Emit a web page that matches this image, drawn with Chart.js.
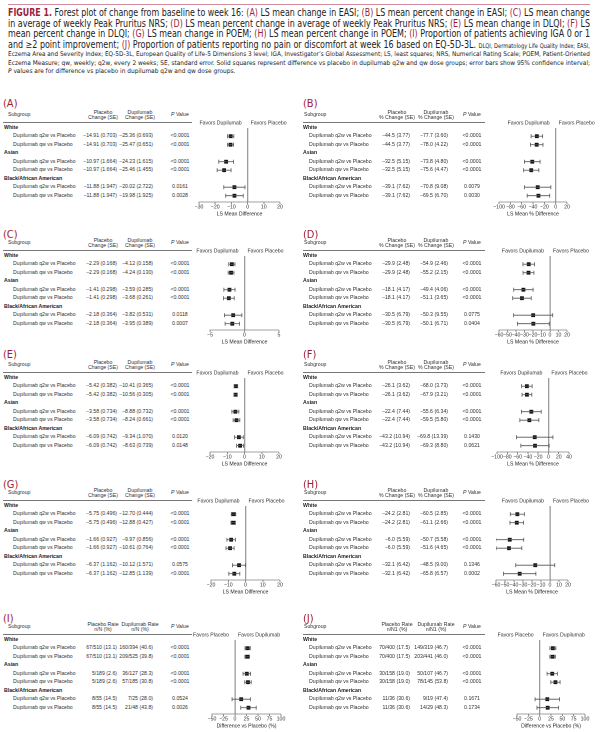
<!DOCTYPE html>
<html><head><meta charset="utf-8">
<script src="https://cdn.jsdelivr.net/npm/chart.js@4.4.1/dist/chart.umd.min.js"></script>
<style>
html,body{margin:0;padding:0;background:#fff;width:600px;height:732px;overflow:hidden;}
#page{position:absolute;left:0;top:0;width:600px;height:732px;overflow:hidden;}
.t{position:absolute;white-space:nowrap;font-family:"Liberation Sans",Arial,sans-serif;font-size:5.2px;color:#333;line-height:1;transform:translateY(-50%);}
.c{transform:translate(-50%,-50%);text-align:center;}
.r{transform:translate(-100%,-50%);}
.g{font-weight:bold;color:#222;}
.lab{position:absolute;font-family:"Liberation Sans Narrow","DejaVu Sans Condensed",sans-serif;font-size:11px;color:#a11d3a;line-height:1;transform:translateY(-50%);}
.rule{position:absolute;height:0;border-top:0.8px solid #777;}
.cap{position:absolute;left:8px;white-space:nowrap;font-family:"Liberation Sans Narrow","DejaVu Sans Condensed",sans-serif;color:#222;line-height:1;transform-origin:0 0;}
.big{font-size:10px;}
.sm{font-size:6.4px;}
.red{color:#a11d3a;}
canvas{position:absolute;}
</style></head><body><div id="page"></div>
<script>
// ---------------- DATA ----------------
const groups = ["White", "Asian", "Black/African American"];
const comparisons = ["Dupilumab q2w vs Placebo", "Dupilumab qw vs Placebo"];

const A_placebo = ["−14.91 (0.703)","−14.91 (0.703)","−10.97 (1.664)","−10.97 (1.664)","−11.88 (1.947)","−11.88 (1.947)"];
const A_dupilumab = ["−25.36 (0.693)","−25.47 (0.651)","−24.23 (1.615)","−25.46 (1.455)","−20.02 (2.722)","−19.98 (1.925)"];
const A_p = ["<0.0001","<0.0001","<0.0001","<0.0001","0.0161","0.0028"];
const A_diff = [-10.45,-10.56,-13.26,-14.49,-8.14,-8.10];
const A_lo = [-12.4,-12.4,-17.8,-18.8,-14.7,-13.5];
const A_hi = [-8.5,-8.7,-8.7,-10.2,-1.6,-2.7];
const A_ticks = [-30,-20,-10,0,10,20];

const B_placebo = ["−44.5 (3.77)","−44.5 (3.77)","−32.5 (5.15)","−32.5 (5.15)","−39.1 (7.62)","−39.1 (7.62)"];
const B_dupilumab = ["−77.7 (3.60)","−78.0 (4.22)","−73.8 (4.80)","−75.6 (4.47)","−70.8 (9.08)","−69.5 (6.70)"];
const B_p = ["<0.0001","<0.0001","<0.0001","<0.0001","0.0079","0.0030"];
const B_diff = [-33.2,-33.5,-41.3,-43.1,-31.7,-30.4];
const B_lo = [-43.4,-44.6,-55.1,-56.5,-54.9,-50.3];
const B_hi = [-23.0,-22.4,-27.5,-29.7,-8.5,-10.5];
const B_ticks = [-100,-80,-60,-40,-20,0,20];

const C_placebo = ["−2.29 (0.168)","−2.29 (0.168)","−1.41 (0.298)","−1.41 (0.298)","−2.18 (0.364)","−2.18 (0.364)"];
const C_dupilumab = ["−4.12 (0.158)","−4.24 (0.130)","−3.59 (0.285)","−3.68 (0.261)","−3.82 (0.531)","−3.95 (0.389)"];
const C_p = ["<0.0001","<0.0001","<0.0001","<0.0001","0.0118","0.0007"];
const C_diff = [-1.83,-1.95,-2.18,-2.27,-1.64,-1.77];
const C_lo = [-2.28,-2.37,-2.99,-3.05,-2.90,-2.81];
const C_hi = [-1.38,-1.53,-1.37,-1.49,-0.38,-0.73];
const C_ticks = [-5,0,5];

const D_placebo = ["−29.9 (2.48)","−29.9 (2.48)","−18.1 (4.17)","−18.1 (4.17)","−30.5 (6.79)","−30.5 (6.79)"];
const D_dupilumab = ["−54.9 (2.46)","−55.2 (2.15)","−49.4 (4.06)","−51.1 (3.65)","−50.3 (9.55)","−50.1 (6.71)"];
const D_p = ["<0.0001","<0.0001","<0.0001","<0.0001","0.0775","0.0404"];
const D_diff = [-25.0,-25.3,-31.3,-33.0,-19.8,-19.6];
const D_lo = [-31.8,-31.7,-42.7,-43.9,-42.8,-38.3];
const D_hi = [-18.2,-18.9,-19.9,-22.1,3.2,-0.9];
const D_ticks = [-60,-50,-40,-30,-20,-10,0,10,20];

const E_placebo = ["−5.42 (0.382)","−5.42 (0.382)","−3.58 (0.734)","−3.58 (0.734)","−6.09 (0.742)","−6.09 (0.742)"];
const E_dupilumab = ["−10.41 (0.365)","−10.56 (0.305)","−8.88 (0.732)","−8.24 (0.661)","−9.34 (1.070)","−8.63 (0.739)"];
const E_p = ["<0.0001","<0.0001","<0.0001","<0.0001","0.0120","0.0148"];
const E_diff = [-4.99,-5.14,-5.30,-4.66,-3.25,-2.54];
const E_lo = [-6.03,-6.10,-7.33,-6.60,-5.80,-4.59];
const E_hi = [-3.95,-4.18,-3.27,-2.72,-0.70,-0.49];
const E_ticks = [-20,-10,0,10,20];

const F_placebo = ["−26.1 (3.62)","−26.1 (3.62)","−22.4 (7.44)","−22.4 (7.44)","−43.2 (10.94)","−43.2 (10.94)"];
const F_dupilumab = ["−68.0 (3.73)","−67.9 (3.21)","−55.6 (6.34)","−59.5 (5.80)","−69.8 (13.39)","−69.3 (8.80)"];
const F_p = ["<0.0001","<0.0001","<0.0001","<0.0001","0.1430","0.0621"];
const F_diff = [-41.9,-41.8,-33.2,-37.1,-26.6,-26.1];
const F_lo = [-52.1,-51.3,-52.4,-55.6,-62.0,-53.6];
const F_hi = [-31.7,-32.3,-14.0,-18.6,8.8,1.4];
const F_ticks = [-100,-80,-60,-40,-20,0,20,40];

const G_placebo = ["−5.75 (0.496)","−5.75 (0.496)","−1.66 (0.927)","−1.66 (0.927)","−6.37 (1.162)","−6.37 (1.162)"];
const G_dupilumab = ["−12.70 (0.444)","−12.88 (0.427)","−9.97 (0.856)","−10.61 (0.764)","−10.12 (1.571)","−12.85 (1.139)"];
const G_p = ["<0.0001","<0.0001","<0.0001","<0.0001","0.0575","<0.0001"];
const G_diff = [-6.95,-7.13,-8.31,-8.95,-3.75,-6.48];
const G_lo = [-8.25,-8.41,-10.78,-11.30,-7.58,-9.67];
const G_hi = [-5.65,-5.85,-5.84,-6.60,0.08,-3.29];
const G_ticks = [-20,-10,0,10,20];

const H_placebo = ["−24.2 (2.81)","−24.2 (2.81)","−6.0 (5.59)","−6.0 (5.59)","−32.1 (6.42)","−32.1 (6.42)"];
const H_dupilumab = ["−60.5 (2.85)","−61.1 (2.66)","−50.7 (5.58)","−51.6 (4.65)","−48.5 (9.00)","−65.8 (6.57)"];
const H_p = ["<0.0001","<0.0001","<0.0001","<0.0001","0.1346","0.0002"];
const H_diff = [-36.3,-36.9,-44.7,-45.6,-16.4,-33.7];
const H_lo = [-44.1,-44.5,-60.2,-59.9,-38.1,-51.7];
const H_hi = [-28.5,-29.3,-29.2,-31.3,5.3,-15.7];
const H_ticks = [-60,-50,-40,-30,-20,-10,0,10,20];

const I_placebo = ["67/510 (13.1)","67/510 (13.1)","5/189 (2.6)","5/189 (2.6)","8/55 (14.5)","8/55 (14.5)"];
const I_dupilumab = ["160/394 (40.6)","209/525 (39.8)","36/127 (28.3)","57/185 (30.8)","7/25 (28.0)","21/48 (43.8)"];
const I_p = ["<0.0001","<0.0001","<0.0001","<0.0001","0.0524","0.0026"];
const I_diff = [27.5,26.7,25.7,28.2,13.5,29.3];
const I_lo = [21.8,21.6,17.5,21.2,-6.4,12.5];
const I_hi = [33.2,31.8,33.9,35.2,33.4,46.1];
const I_ticks = [-50,-25,0,25,50,75,100];

const J_placebo = ["70/400 (17.5)","70/400 (17.5)","30/158 (19.0)","30/158 (19.0)","11/36 (30.6)","11/36 (30.6)"];
const J_dupilumab = ["149/319 (46.7)","203/441 (46.0)","50/107 (46.7)","78/145 (53.8)","9/19 (47.4)","14/29 (48.3)"];
const J_p = ["<0.0001","<0.0001","<0.0001","<0.0001","0.1671","0.1734"];
const J_diff = [29.2,28.5,27.7,34.8,16.8,17.7];
const J_lo = [22.6,22.5,16.4,24.6,-10.2,-5.9];
const J_hi = [35.8,34.5,39.0,45.0,43.8,41.3];
const J_ticks = [-50,-25,0,25,50,75,100];

const hdrChange = [["Placebo","Change (SE)"],["Dupilumab","Change (SE)"]];
const hdrPct = [["Placebo","% Change (SE)"],["Dupilumab","% Change (SE)"]];
const hdrRateI = [["Placebo Rate","n/N (%)"],["Dupilumab Rate","n/N (%)"]];
const hdrRateJ = [["Placebo Rate","n/N1 (%)"],["Dupilumab Rate","n/N1 (%)"]];
const favDup = ["Favors Dupilumab","Favors Placebo"];
const favPbo = ["Favors Placebo","Favors Dupilumab"];

// ---------------- LAYOUT ----------------
const LEFT = {lab:3, sub:8, grp:4, cmp:13, pR:117, dR:153, pv:180, pc:103, dc:140, r0:3, r1:192};
const RIGHT = {lab:303, sub:304, grp:303, cmp:309, pR:410, dR:448, pv:472, pc:397, dc:436, r0:303, r1:485};

const panels = [
 {id:"A", s:LEFT,  h:115, lab:-12, x0:199, x1:280, pl:A_placebo, du:A_dupilumab, p:A_p, d:A_diff, lo:A_lo, hi:A_hi, ticks:A_ticks, hdr:hdrChange, title:"LS Mean Difference", fav:favDup},
 {id:"B", s:RIGHT, h:115, lab:-12, x0:499, x1:567, pl:B_placebo, du:B_dupilumab, p:B_p, d:B_diff, lo:B_lo, hi:B_hi, ticks:B_ticks, hdr:hdrPct, title:"LS Mean % Difference", fav:favDup},
 {id:"C", s:LEFT,  h:243, lab:-9.5, x0:210, x1:279, pl:C_placebo, du:C_dupilumab, p:C_p, d:C_diff, lo:C_lo, hi:C_hi, ticks:C_ticks, hdr:hdrChange, title:"LS Mean Difference", fav:favDup},
 {id:"D", s:RIGHT, h:243, lab:-9.5, x0:499, x1:567, pl:D_placebo, du:D_dupilumab, p:D_p, d:D_diff, lo:D_lo, hi:D_hi, ticks:D_ticks, hdr:hdrPct, title:"LS Mean % Difference", fav:favDup},
 {id:"E", s:LEFT,  h:365, lab:-11, x0:210, x1:279, pl:E_placebo, du:E_dupilumab, p:E_p, d:E_diff, lo:E_lo, hi:E_hi, ticks:E_ticks, hdr:hdrChange, title:"LS Mean Difference", fav:favDup},
 {id:"F", s:RIGHT, h:365, lab:-11.5, x0:497, x1:569, pl:F_placebo, du:F_dupilumab, p:F_p, d:F_diff, lo:F_lo, hi:F_hi, ticks:F_ticks, hdr:hdrPct, title:"LS Mean % Difference", fav:favDup},
 {id:"G", s:LEFT,  h:493, lab:-9.5, x0:211, x1:280, pl:G_placebo, du:G_dupilumab, p:G_p, d:G_diff, lo:G_lo, hi:G_hi, ticks:G_ticks, hdr:hdrChange, title:"LS Mean Difference", fav:favDup},
 {id:"H", s:RIGHT, h:493, lab:-9.5, x0:496, x1:568, pl:H_placebo, du:H_dupilumab, p:H_p, d:H_diff, lo:H_lo, hi:H_hi, ticks:H_ticks, hdr:hdrPct, title:"LS Mean % Difference", fav:favDup},
 {id:"I", s:LEFT,  h:627, lab:-9.5, x0:212, x1:281, pl:I_placebo, du:I_dupilumab, p:I_p, d:I_diff, lo:I_lo, hi:I_hi, ticks:I_ticks, hdr:hdrRateI, title:"Difference vs Placebo (%)", fav:favPbo},
 {id:"J", s:RIGHT, h:627, lab:-9, x0:517, x1:585, pl:J_placebo, du:J_dupilumab, p:J_p, d:J_diff, lo:J_lo, hi:J_hi, ticks:J_ticks, hdr:hdrRateJ, title:"Difference vs Placebo (%)", fav:favPbo}
];

const ROW0 = 12.7, ROWH = 8.5;
const page = document.getElementById("page");
function el(cls, html, x, y, extra) {
  const d = document.createElement("div");
  d.className = cls; d.innerHTML = html;
  d.style.left = x + "px"; d.style.top = y + "px";
  if (extra) Object.assign(d.style, extra);
  page.appendChild(d); return d;
}

// caption
page.insertAdjacentHTML("beforeend", '<div style="position:absolute;left:8px;top:4px;width:582px;border-top:1px solid #d48a9c"></div>');
const R = s => '<span class="red">' + s + '</span>';
const capLines = [
 {c:"big", y:8, html:'<b class="red">FIGURE 1.</b> Forest plot of change from baseline to week 16: ' + R("(A)") + ' LS mean change in EASI; ' + R("(B)") + ' LS mean percent change in EASI; ' + R("(C)") + ' LS mean change'},
 {c:"big", y:18.5, html:'in average of weekly Peak Pruritus NRS; ' + R("(D)") + ' LS mean percent change in average of weekly Peak Pruritus NRS; ' + R("(E)") + ' LS mean change in DLQI; ' + R("(F)") + ' LS'},
 {c:"big", y:29, html:'mean percent change in DLQI; ' + R("(G)") + ' LS mean change in POEM; ' + R("(H)") + ' LS mean percent change in POEM; ' + R("(I)") + ' Proportion of patients achieving IGA 0 or 1'},
 {c:"big", y:39.5, html:'and ≥2 point improvement; ' + R("(J)") + ' Proportion of patients reporting no pain or discomfort at week 16 based on EQ-5D-3L. <span class="sm">DLQI, Dermatology Life Quality Index; EASI,</span>'},
 {c:"sm", y:51, html:"Eczema Area and Severity Index; EQ-5D-3L, European Quality of Life-5 Dimensions 3 level; IGA, Investigator’s Global Assessment; LS, least squares; NRS, Numerical Rating Scale; POEM, Patient-Oriented"},
 {c:"sm", y:59.5, html:"Eczema Measure; qw, weekly; q2w, every 2 weeks; SE, standard error. Solid squares represent difference vs placebo in dupilumab q2w and qw dose groups; error bars show 95% confidence interval;"},
 {c:"sm", y:68, html:"<i>P</i> values are for difference vs placebo in dupilumab q2w and qw dose groups.", last:true}
];
let lastScale = 1;
capLines.forEach(L => {
  const d = el("cap " + L.c, L.html, 8, L.y);
  const w = d.getBoundingClientRect().width;
  let sc = 582 / w;
  if (L.last) sc = lastScale;
  lastScale = sc;
  d.style.transform = "scaleX(" + sc + ")";
});

// favors labels plugin (positions from the chart's own x scale)
const favorsPlugin = {
  id: "favors",
  afterDraw(chart, args, opts) {
    const {ctx, chartArea, scales} = chart;
    const z = scales.x.getPixelForValue(0);
    ctx.save();
    ctx.font = '5.2px "Liberation Sans", Arial, sans-serif';
    ctx.fillStyle = "#333";
    ctx.textBaseline = "middle";
    ctx.textAlign = "right"; ctx.fillText(opts.left, z - 6, chartArea.top - 5);
    ctx.textAlign = "left"; ctx.fillText(opts.right, z + 3, chartArea.top - 5);
    ctx.restore();
  }
};

const pointRows = [1, 2, 4, 5, 7, 8];
const PADL = 25, PADR = 40;

panels.forEach(P => {
  const s = P.s, h = P.h;
  el("lab", "(" + P.id + ")", s.lab, h + P.lab);
  el("t", "Subgroup", s.sub, h);
  el("t c", P.hdr[0][0] + "<br>" + P.hdr[0][1], s.pc, h, {lineHeight: "1.05"});
  el("t c", P.hdr[1][0] + "<br>" + P.hdr[1][1], s.dc, h, {lineHeight: "1.05"});
  el("t c", "<i>P</i> Value", s.pv, h);
  el("rule", "", s.r0, h + 7, {width: (s.r1 - s.r0) + "px"});
  let k = 0;
  for (let g = 0; g < 3; g++) {
    const gi = g * 3;
    el("t g", groups[g], s.grp, h + ROW0 + ROWH * gi);
    for (let c = 0; c < 2; c++) {
      const y = h + ROW0 + ROWH * (gi + 1 + c);
      el("t", comparisons[c], s.cmp, y);
      el("t r", P.pl[k], s.pR, y);
      el("t r", P.du[k], s.dR, y);
      el("t c", P.p[k], s.pv, y);
      k++;
    }
  }
  // chart
  const cv = document.createElement("canvas");
  const W = (P.x1 - P.x0) + PADL + PADR, H = 104;
  cv.width = W; cv.height = H;
  cv.style.left = (P.x0 - PADL) + "px"; cv.style.top = h + "px";
  cv.style.width = W + "px"; cv.style.height = H + "px";
  page.appendChild(cv);
  const ci = P.d.map((v, i) => ({
    data: [{x: P.lo[i], y: pointRows[i]}, {x: P.hi[i], y: pointRows[i]}],
    showLine: true, borderColor: "#555", borderWidth: 0.8,
    pointStyle: "line", pointRadius: 2, pointRotation: 90,
    pointBorderColor: "#555", pointBorderWidth: 0.8, pointBackgroundColor: "#555"
  }));
  const est = {
    data: P.d.map((v, i) => ({x: v, y: pointRows[i]})),
    pointStyle: "rect", pointRadius: 2.7, backgroundColor: "#111", borderWidth: 0, pointBorderWidth: 0
  };
  const ticks = P.ticks;
  new Chart(cv, {
    type: "scatter",
    data: {datasets: [...ci, est]},
    plugins: [favorsPlugin],
    options: {
      responsive: false, animation: false, devicePixelRatio: 2,
      layout: {padding: {left: PADL, right: PADR, top: 13, bottom: 0}},
      plugins: {legend: {display: false}, tooltip: {enabled: false}, favors: {left: P.fav[0], right: P.fav[1]}},
      scales: {
        x: {
          type: "linear", min: ticks[0], max: ticks[ticks.length - 1],
          afterBuildTicks: sc => { sc.ticks = ticks.map(v => ({value: v})); },
          afterFit: sc => { sc.height = 17; },
          ticks: {font: {family: "Liberation Sans", size: 5.2}, color: "#333", padding: 0, maxRotation: 0, autoSkip: false,
                  callback: v => String(v).replace("-", "−")},
          grid: {
            drawOnChartArea: true,
            color: c => (c.tick && c.tick.value === 0) ? "#9c9c9c" : "rgba(0,0,0,0)",
            lineWidth: c => (c.tick && c.tick.value === 0) ? 1.3 : 0,
            tickColor: "#444", tickLength: 2, tickWidth: 0.6
          },
          border: {display: true, color: "#444", width: 0.6},
          title: {display: true, text: P.title, font: {family: "Liberation Sans", size: 5.2}, color: "#222", padding: {top: 0, bottom: 2}}
        },
        y: {type: "linear", display: false, min: 0.035, max: 8.74, reverse: true}
      }
    }
  });
});
</script>
</body></html>
